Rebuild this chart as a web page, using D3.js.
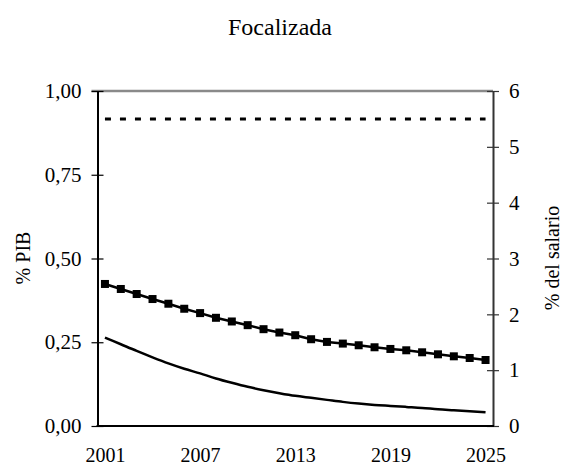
<!DOCTYPE html>
<html>
<head>
<meta charset="utf-8">
<script src="https://cdn.jsdelivr.net/npm/d3@7"></script>
<style>
  svg text { font-family: 'Liberation Serif', 'Times New Roman', serif !important; fill: #000; }
</style>
</head>
<body style="margin:0; background:#fff">
<svg id="fig" width="563" height="468"></svg>
<script>
// data
var years = d3.range(2001, 2026);
var squares = [0.424, 0.409, 0.394, 0.379, 0.365, 0.350, 0.337, 0.323, 0.312, 0.301,
               0.289, 0.279, 0.271, 0.259, 0.251, 0.246, 0.241, 0.235, 0.230, 0.226,
               0.220, 0.214, 0.208, 0.203, 0.197];
var solid = [0.264, 0.244, 0.224, 0.205, 0.187, 0.171, 0.157, 0.142, 0.129, 0.117,
             0.107, 0.098, 0.090, 0.084, 0.078, 0.072, 0.067, 0.063, 0.060, 0.057,
             0.054, 0.050, 0.047, 0.044, 0.041];
var dashed = years.map(function(){ return 5.5; });
var leftTicks = [0, 0.25, 0.5, 0.75, 1];
var rightTicks = [0, 1, 2, 3, 4, 5, 6];
var xTicks = [2001, 2007, 2013, 2019, 2025];

var margin = {top: 91, right: 70, bottom: 42, left: 97.5};
var svg = d3.select("#fig");
var width = 493 - margin.left;
var height = 426 - margin.top;
var g = svg.append("g").attr("transform", `translate(${margin.left}, ${margin.top})`);

var x = d3.scalePoint().domain(years).range([0, width]).padding(0.47);
var yL = d3.scaleLinear().domain([0, 1]).range([height, 0]);
var yR = d3.scaleLinear().domain([0, 6]).range([height, 0]);

var fmt = function(d){ return d3.format(".2f")(d).replace(".", ","); };

// title
svg.append("text").attr("x", 280).attr("y", 35).attr("text-anchor", "middle")
  .attr("font-size", 24).text("Focalizada");

// top frame line
g.append("line").attr("x1", -6).attr("x2", width).attr("y1", 0).attr("y2", 0)
  .attr("stroke", "#8a8a8a").attr("stroke-width", 2.5);

// left axis
var axL = g.append("g")
  .call(d3.axisLeft(yL).tickValues(leftTicks).tickFormat(fmt).tickSizeInner(-6).tickSizeOuter(0).tickPadding(16))
  .attr("font-size", 21);
axL.select(".domain").attr("stroke", "#000").attr("stroke-width", 2);
axL.selectAll(".tick line").attr("x1", -6).attr("x2", 6).attr("stroke", "#000").attr("stroke-width", 1.2);

// right axis
var axR = g.append("g").attr("transform", `translate(${width},0)`)
  .call(d3.axisRight(yR).tickValues(rightTicks).tickFormat(d3.format("d")).tickSizeOuter(0).tickPadding(10))
  .attr("font-size", 21);
axR.select(".domain").attr("stroke", "#333").attr("stroke-width", 2);
axR.selectAll(".tick line").attr("x1", -6).attr("x2", 6).attr("stroke", "#333").attr("stroke-width", 1.2);

// bottom axis, labels only
var axB = g.append("g").attr("transform", `translate(0,${height})`)
  .call(d3.axisBottom(x).tickValues(xTicks).tickSize(0).tickPadding(22))
  .attr("font-size", 20);
axB.select(".domain").remove();
g.append("line").attr("x1", -1).attr("x2", width + 1).attr("y1", height).attr("y2", height)
  .attr("stroke", "#000").attr("stroke-width", 2);

// axis titles
svg.append("text").attr("transform", "translate(30,258) rotate(-90)")
  .attr("text-anchor", "middle").attr("font-size", 20).text("% PIB");
svg.append("text").attr("transform", "translate(559,258) rotate(-90)")
  .attr("text-anchor", "middle").attr("font-size", 20).text("% del salario");

// dashed series (right axis)
g.append("path").datum(dashed)
  .attr("fill", "none").attr("stroke", "#000").attr("stroke-width", 3)
  .attr("stroke-dasharray", "6,9")
  .attr("d", d3.line().x(function(d, i){ return x(years[i]); }).y(function(d){ return yR(d); }));

// squares series
g.append("path").datum(squares)
  .attr("fill", "none").attr("stroke", "#000").attr("stroke-width", 2.5)
  .attr("d", d3.line().x(function(d, i){ return x(years[i]); }).y(function(d){ return yL(d); }));
g.selectAll(".sq").data(squares).enter().append("rect")
  .attr("class", "sq")
  .attr("x", function(d, i){ return x(years[i]) - 4; })
  .attr("y", function(d){ return yL(d) - 4; })
  .attr("width", 8).attr("height", 8).attr("fill", "#000");

// solid series
g.append("path").datum(solid)
  .attr("fill", "none").attr("stroke", "#000").attr("stroke-width", 2.5)
  .attr("d", d3.line().curve(d3.curveMonotoneX).x(function(d, i){ return x(years[i]); }).y(function(d){ return yL(d); }));
</script>
</body>
</html>
